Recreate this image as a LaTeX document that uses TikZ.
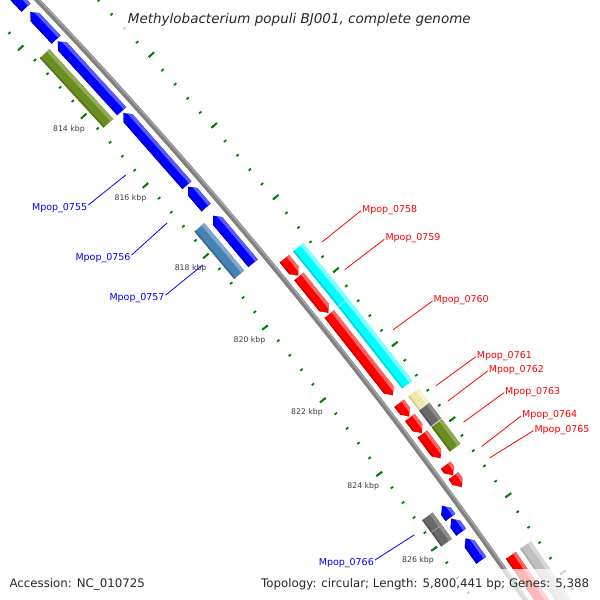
\documentclass[tikz,border=0pt]{standalone}
\usepackage{fontspec}
\usepackage{xfp}
\setmainfont{DejaVu Sans}
\definecolor{fblue}{RGB}{0,0,255}\definecolor{fbluehl}{RGB}{90,90,255}\definecolor{fbluedk}{RGB}{0,0,190}
\definecolor{fred}{RGB}{255,0,0}\definecolor{fredhl}{RGB}{255,100,100}\definecolor{freddk}{RGB}{205,0,0}
\definecolor{folive}{RGB}{107,142,35}\definecolor{folivehl}{RGB}{145,172,85}\definecolor{folivedk}{RGB}{85,115,25}
\definecolor{fsteel}{RGB}{70,130,180}\definecolor{fsteelhl}{RGB}{125,167,205}\definecolor{fsteeldk}{RGB}{55,105,148}
\definecolor{fcyan}{RGB}{0,255,255}\definecolor{fcyanhl}{RGB}{130,255,255}\definecolor{fcyandk}{RGB}{0,212,212}
\definecolor{fkhaki}{RGB}{238,232,170}\definecolor{fkhakihl}{RGB}{246,242,205}\definecolor{fkhakidk}{RGB}{212,206,140}
\definecolor{fdgray}{RGB}{105,105,105}\definecolor{fdgrayhl}{RGB}{140,140,140}\definecolor{fdgraydk}{RGB}{85,85,85}
\definecolor{flgray}{RGB}{192,192,192}\definecolor{flgrayhl}{RGB}{215,215,215}\definecolor{flgraydk}{RGB}{170,170,170}
\definecolor{tickgreen}{RGB}{0,128,0}
\definecolor{bbgray}{RGB}{128,128,128}
\definecolor{bbhl}{RGB}{168,168,168}
\definecolor{tickgray}{RGB}{60,60,60}
\definecolor{txtgray}{RGB}{40,40,40}
% point at position #1 (kbp) and radius #2 (px) on the circular map
\newcommand\gp[2]{(\fpeval{round(-3616+(#2)*cosd(42.21-0.5325*((#1)-814)),2)},\fpeval{round(-3472+(#2)*sind(42.21-0.5325*((#1)-814)),2)})}
% feature: #1 inner r, #2 outer r, #3 start, #4 end, #5 direction (1,-1,0), #6 colour base
\newcommand\feat[6]{%
 \begingroup
 \edef\fh{\fpeval{min(0.15,(#4)-(#3))}}%
 \edef\fm{\fpeval{((#1)+(#2))/2}}%
 \edef\fa{\fpeval{(#2)-0.27*((#2)-(#1))}}%
 \edef\fb{\fpeval{(#1)+0.13*((#2)-(#1))}}%
 \begin{scope}
 \ifnum#5=1\relax
  \clip \gp{#3}{#1} -- \gp{#4-\fh}{#1} -- \gp{#4}{\fm} -- \gp{#4-\fh}{#2} -- \gp{#3}{#2} -- cycle;
 \else\ifnum#5=-1\relax
  \clip \gp{#4}{#1} -- \gp{#3+\fh}{#1} -- \gp{#3}{\fm} -- \gp{#3+\fh}{#2} -- \gp{#4}{#2} -- cycle;
 \else
  \clip \gp{#3}{#1} -- \gp{#4}{#1} -- \gp{#4}{#2} -- \gp{#3}{#2} -- cycle;
 \fi\fi
 \fill[#6] \gp{#3-0.3}{#1-2} -- \gp{#4+0.3}{#1-2} -- \gp{#4+0.3}{#2+2} -- \gp{#3-0.3}{#2+2} -- cycle;
 \fill[#6hl] \gp{#3-0.3}{\fa} -- \gp{#4+0.3}{\fa} -- \gp{#4+0.3}{#2+2} -- \gp{#3-0.3}{#2+2} -- cycle;
 \fill[#6dk] \gp{#3-0.3}{#1-2} -- \gp{#4+0.3}{#1-2} -- \gp{#4+0.3}{\fb} -- \gp{#3-0.3}{\fb} -- cycle;
 \end{scope}
 \endgroup}
\begin{document}
\begin{tikzpicture}[x=1pt,y=1pt,
  minortick/.style={draw=tickgreen,line width=1.8pt},
  bigtick/.style={draw=tickgreen,line width=2pt},
  backbone/.style={draw=bbgray,line width=5pt},
  ticklab/.style={font=\fontsize{7.75}{8}\selectfont,text=tickgray,inner sep=0pt},
  blab/.style={font=\fontsize{9.5}{10}\selectfont,text=blue,inner xsep=1pt,inner ysep=0pt,anchor=east},
  rlab/.style={font=\fontsize{9.5}{10}\selectfont,text=red,inner xsep=1pt,inner ysep=0pt,anchor=west},
  bline/.style={draw=blue,line width=0.8pt},
  rline/.style={draw=red,line width=0.8pt},
  legend/.style={font=\fontsize{11.8}{13}\selectfont,text=txtgray,inner sep=0pt,anchor=base west},
  veil/.style={fill=white,fill opacity=0.72}]
\useasboundingbox (0,0) rectangle (600,-600);
\fill[white] (0,0) rectangle (600,-600);
\begin{scope}
\clip (0,0) rectangle (600,-600);
% ruler ticks
\foreach \n in {0,...,52} {
  \draw[minortick] \gp{809.6+0.4*\n}{4998.5} -- \gp{809.6+0.4*\n}{4995.5};
  \draw[minortick] \gp{809.6+0.4*\n}{5082.8} -- \gp{809.6+0.4*\n}{5085.8};
}
\foreach \k in {810,812,...,830} {
  \draw[bigtick] \gp{\k}{4998.5} -- \gp{\k}{4991.3};
  \draw[bigtick] \gp{\k}{5082.8} -- \gp{\k}{5090};
}
% backbone
\draw[backbone] \gp{809}{5040} \foreach \k in {809.5,810,...,830} { -- \gp{\k}{5040} };
\draw[draw=bbhl,line width=1.2pt] \gp{809}{5041.3} \foreach \k in {809.5,810,...,830} { -- \gp{\k}{5041.3} };
% reverse strand, track 1
\feat{5020.5}{5032.5}{810.6}{811.45}{-1}{fblue}
\feat{5020.5}{5032.5}{811.58}{812.39}{-1}{fblue}
\feat{5020.5}{5032.5}{812.44}{814.47}{-1}{fblue}
\feat{5020.5}{5032.5}{814.52}{816.58}{-1}{fblue}
\feat{5020.5}{5032.5}{816.62}{817.21}{-1}{fblue}
\feat{5020.5}{5032.5}{817.44}{818.77}{-1}{fblue}
\feat{5020.5}{5032.5}{825.35}{825.66}{-1}{fblue}
\feat{5020.5}{5032.5}{825.69}{826.05}{-1}{fblue}
\feat{5020.5}{5032.5}{826.21}{826.79}{-1}{fblue}
% reverse strand, track 2
\feat{5002}{5015}{812.44}{814.47}{0}{folive}
\feat{5002}{5015}{817.44}{818.77}{0}{fsteel}
\feat{5002}{5015}{825.35}{825.675}{0}{fdgray}
\feat{5002}{5015}{825.685}{826.05}{0}{fdgray}
% forward strand, track 1
\feat{5047.5}{5059.5}{819.12}{819.59}{1}{fred}
\feat{5047.5}{5059.5}{819.61}{820.61}{1}{fred}
\feat{5047.5}{5059.5}{820.64}{822.84}{1}{fred}
\feat{5047.5}{5059.5}{823.05}{823.41}{1}{fred}
\feat{5047.5}{5059.5}{823.43}{823.85}{1}{fred}
\feat{5047.5}{5059.5}{823.87}{824.52}{1}{fred}
\feat{5047.5}{5059.5}{824.70}{824.97}{1}{fred}
\feat{5047.5}{5059.5}{824.98}{825.28}{1}{fred}
\feat{5047.5}{5059.5}{827.07}{829.5}{0}{fred}
% forward strand, track 2
\feat{5065}{5078}{819.12}{820.625}{0}{fcyan}
\feat{5065}{5078}{820.64}{822.84}{0}{fcyan}
\feat{5065}{5078}{823.05}{823.41}{0}{fkhaki}
\feat{5065}{5078}{823.43}{823.85}{0}{fdgray}
\feat{5065}{5078}{823.87}{824.52}{0}{folive}
\feat{5065}{5078}{827.07}{829.5}{0}{flgray}
% ruler labels
\path \gp{814}{4975} node[ticklab] (t814) {814 kbp};
\path \gp{816}{4975} node[ticklab] (t816) {816 kbp};
\path \gp{818}{4975} node[ticklab] (t818) {818 kbp};
\path \gp{820}{4975} node[ticklab] (t820) {820 kbp};
\path \gp{822}{4975} node[ticklab] (t822) {822 kbp};
\path \gp{824}{4975} node[ticklab] (t824) {824 kbp};
\path \gp{826}{4975} node[ticklab] (t826) {826 kbp};
% feature labels
\path \gp{815.55}{4987} coordinate (s0755);
\path \gp{816.915}{4987} coordinate (s0756);
\path \gp{818.105}{4987} coordinate (s0757);
\path \gp{825.505}{4987} coordinate (s0766);
\path \gp{819.355}{5093.5} coordinate (s0758);
\path \gp{820.11}{5093.5} coordinate (s0759);
\path \gp{821.74}{5093.5} coordinate (s0760);
\path \gp{823.23}{5093.5} coordinate (s0761);
\path \gp{823.64}{5093.5} coordinate (s0762);
\path \gp{824.195}{5093.5} coordinate (s0763);
\path \gp{824.835}{5093.5} coordinate (s0764);
\path \gp{825.13}{5093.5} coordinate (s0765);
\node[blab] (l0755) at (88.3,-208) {Mpop\_0755};
\node[blab] (l0756) at (131.7,-258) {Mpop\_0756};
\node[blab] (l0757) at (165.7,-298) {Mpop\_0757};
\node[blab] (l0766) at (375,-563) {Mpop\_0766};
\node[rlab] (l0758) at (361,-209.7) {Mpop\_0758};
\node[rlab] (l0759) at (384.3,-238.3) {Mpop\_0759};
\node[rlab] (l0760) at (432.5,-300) {Mpop\_0760};
\node[rlab] (l0761) at (475.7,-355.7) {Mpop\_0761};
\node[rlab] (l0762) at (487.7,-370) {Mpop\_0762};
\node[rlab] (l0763) at (504,-391.7) {Mpop\_0763};
\node[rlab] (l0764) at (521,-415) {Mpop\_0764};
\node[rlab] (l0765) at (533.3,-429.7) {Mpop\_0765};
\draw[bline] (s0755) -- ([yshift=3pt]l0755.east);
\draw[bline] (s0756) -- ([yshift=3pt]l0756.east);
\draw[bline] (s0757) -- ([yshift=3pt]l0757.east);
\draw[bline] (s0766) -- ([yshift=3pt]l0766.east);
\draw[rline] (s0758) -- ([yshift=-1pt]l0758.west);
\draw[rline] (s0759) -- ([yshift=-1pt]l0759.west);
\draw[rline] (s0760) -- ([yshift=-1pt]l0760.west);
\draw[rline] (s0761) -- ([yshift=-1pt]l0761.west);
\draw[rline] (s0762) -- ([yshift=-1pt]l0762.west);
\draw[rline] (s0763) -- ([yshift=-1pt]l0763.west);
\draw[rline] (s0764) -- ([yshift=-1pt]l0764.west);
\draw[rline] (s0765) -- ([yshift=-1pt]l0765.west);
% title and legend
\fill[veil] (122,-3) rectangle (478,-32);
\node[legend,font=\fontsize{13.5}{15}\selectfont\itshape] (title) at (127.7,-23.3) {Methylobacterium populi BJ001, complete genome};
\fill[veil] (255,-569) rectangle (595,-600);
\node[legend] (acc) at (9.3,-587.3) {Accession: NC\_010725};
\node[legend,anchor=base east] (topo) at (589.3,-587.3) {Topology: circular; Length: 5,800,441 bp; Genes: 5,388};
\end{scope}
\end{tikzpicture}
\end{document}
